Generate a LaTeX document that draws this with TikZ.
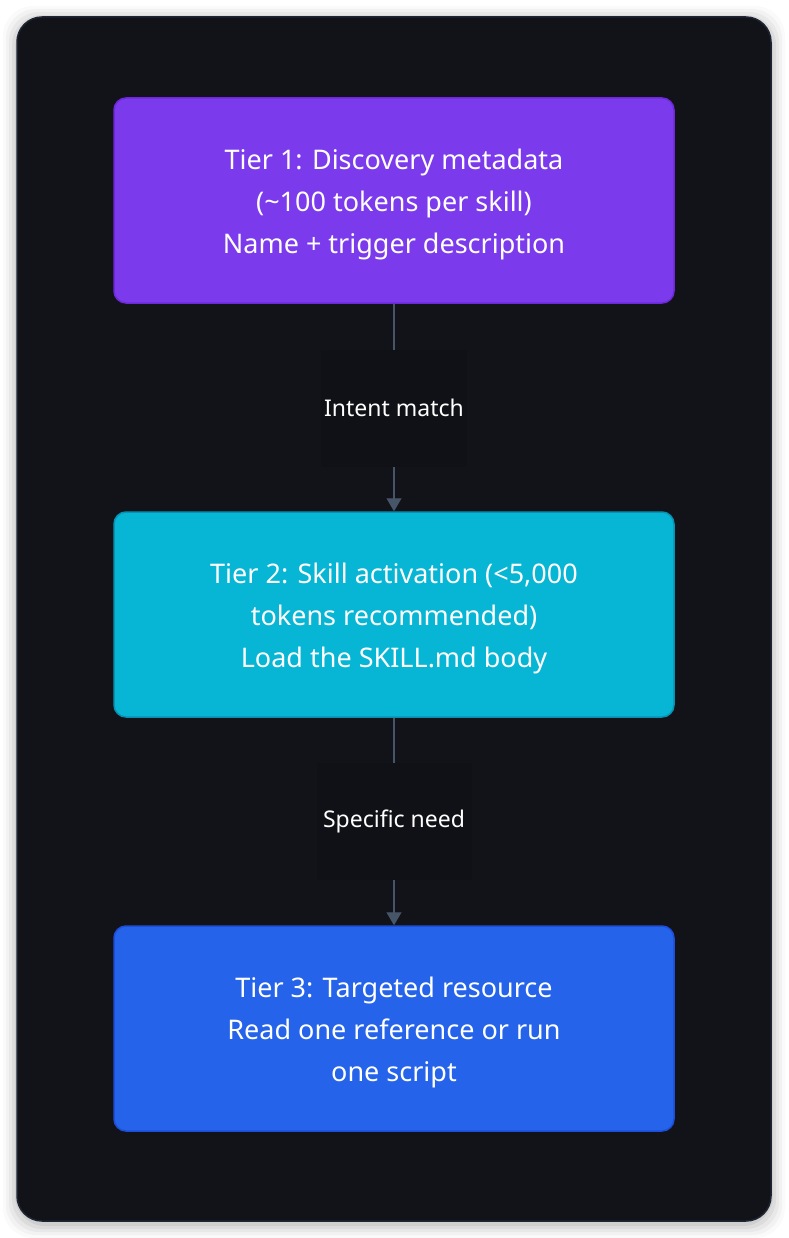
\documentclass[tikz,border=0pt]{standalone}
\usepackage{fontspec}
\setmainfont{Noto Sans}
\usetikzlibrary{arrows.meta}
\definecolor{panel}{HTML}{121319}
\definecolor{panelb}{HTML}{1E2533}
\definecolor{purpf}{HTML}{7C3AED}
\definecolor{purpd}{HTML}{6D28D9}
\definecolor{cyanf}{HTML}{06B6D4}
\definecolor{cyand}{HTML}{0891B2}
\definecolor{bluef}{HTML}{2563EB}
\definecolor{blued}{HTML}{1D4ED8}
\definecolor{edgec}{HTML}{475569}
\definecolor{lblbg}{HTML}{101116}
\tikzset{
  tier/.style={draw, line width=1.5pt, rounded corners=12pt, minimum width=560pt, minimum height=205pt,
    align=center, text=white, font=\fontsize{27}{42}\selectfont, inner sep=0pt},
  elabel/.style={fill=lblbg, text=white, font=\fontsize{23}{26}\selectfont, minimum width=150pt, minimum height=117pt, inner sep=0pt},
  conn/.style={draw=edgec, line width=1.2pt, -{Triangle[length=13pt,width=15pt]}},
}
\begin{document}
\begin{tikzpicture}[x=1pt,y=-1pt]
\useasboundingbox (0,0) rectangle (788,1238);
\fill[white] (0,0) rectangle (788,1238);
% shadow
\foreach \i/\o in {14/0.02,11/0.03,8/0.04,5/0.05,2/0.06}{
  \fill[black,opacity=\o,rounded corners=30pt] (17-\i,20-\i) rectangle (771+\i,1224+\i);
}
\node[draw=panelb, line width=1.5pt, fill=panel, rounded corners=25pt, minimum width=754pt, minimum height=1204pt, inner sep=0pt] (panel) at (394,619) {};
\node[tier, fill=purpf, draw=purpd] (t1) at (394,200.5) {};
\node[align=center, text=white, font=\fontsize{27}{42}\selectfont] (t1t) at (394,204.5) {Tier 1: Discovery metadata\\ (\textasciitilde100 tokens per skill)\\Name + trigger description};
\node[tier, fill=cyanf, draw=cyand] (t2) at (394,614.5) {};
\node[align=center, text=white, font=\fontsize{27}{42}\selectfont] (t2t) at (394,618.5) {Tier 2: Skill activation (<5,000\\ tokens recommended)\\Load the SKILL.md body};
\node[tier, fill=bluef, draw=blued] (t3) at (394,1028.5) {};
\node[align=center, text=white, font=\fontsize{27}{42}\selectfont] (t3t) at (394,1032.5) {Tier 3: Targeted resource\\Read one reference or run\\ one script};
\draw[conn] (t1.south) -- (t2.north);
\draw[conn] (t2.south) -- (t3.north);
\node[elabel, minimum width=146pt] (l1) at (394,408) {Intent match};
\node[elabel, minimum width=155pt] (l2) at (394,821) {Specific need};
\end{tikzpicture}
\end{document}
